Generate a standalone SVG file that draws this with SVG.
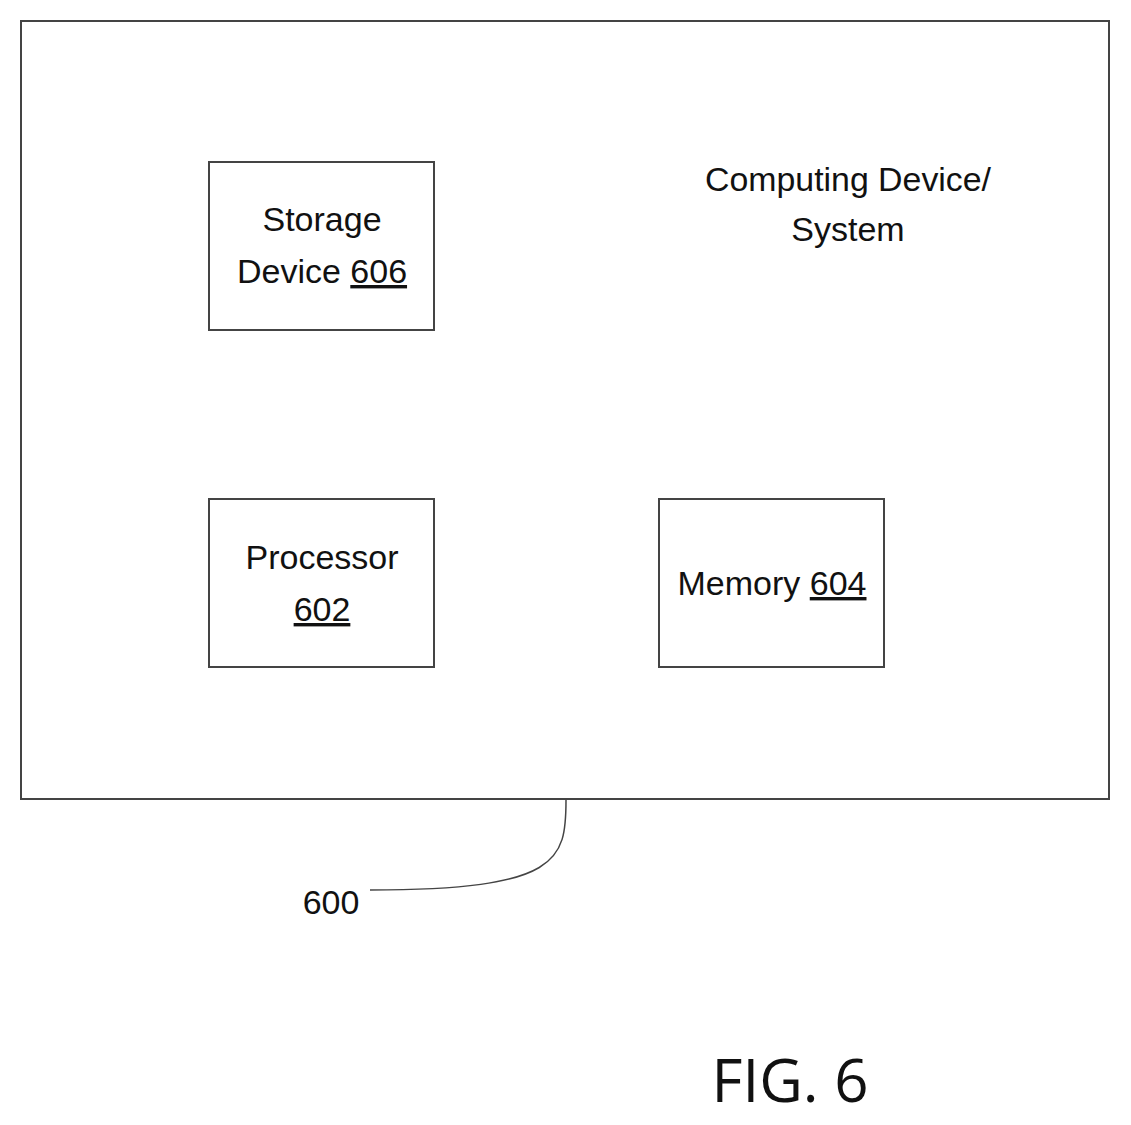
<svg xmlns="http://www.w3.org/2000/svg" width="1131" height="1125" viewBox="0 0 1131 1125">
<style>
.b{fill:#fff;stroke:#444;stroke-width:2}
.t{font-family:"Liberation Sans Narrow","Liberation Sans",sans-serif;font-size:34px;fill:#111;text-anchor:middle}
.u{text-decoration:underline}
</style>
<rect width="1131" height="1125" fill="#fff"/>
<g id="system"><rect class="b" x="21" y="21" width="1088" height="778"/>
<text class="t" x="848" y="191" textLength="286" lengthAdjust="spacingAndGlyphs">Computing Device/</text>
<text class="t" x="848" y="241">System</text></g>
<g id="storage"><rect class="b" x="209" y="162" width="225" height="168"/>
<text class="t" x="322" y="231">Storage</text>
<text class="t" x="322" y="283">Device <tspan class="u">606</tspan></text></g>
<g id="processor"><rect class="b" x="209" y="499" width="225" height="168"/>
<text class="t" x="322" y="569">Processor</text>
<text class="t" x="322" y="621"><tspan class="u">602</tspan></text></g>
<g id="memory"><rect class="b" x="659" y="499" width="225" height="168"/>
<text class="t" x="772" y="595">Memory <tspan class="u">604</tspan></text></g>
<g id="connectors"><path d="M566 800 C566 860 560 890 370 890" fill="none" stroke="#444" stroke-width="1.5"/></g>
<text class="t" x="331" y="914">600</text>
<text x="790" y="1102" font-family="'Open Sans',sans-serif" font-size="60" text-anchor="middle" fill="#111">FIG. 6</text>
</svg>
